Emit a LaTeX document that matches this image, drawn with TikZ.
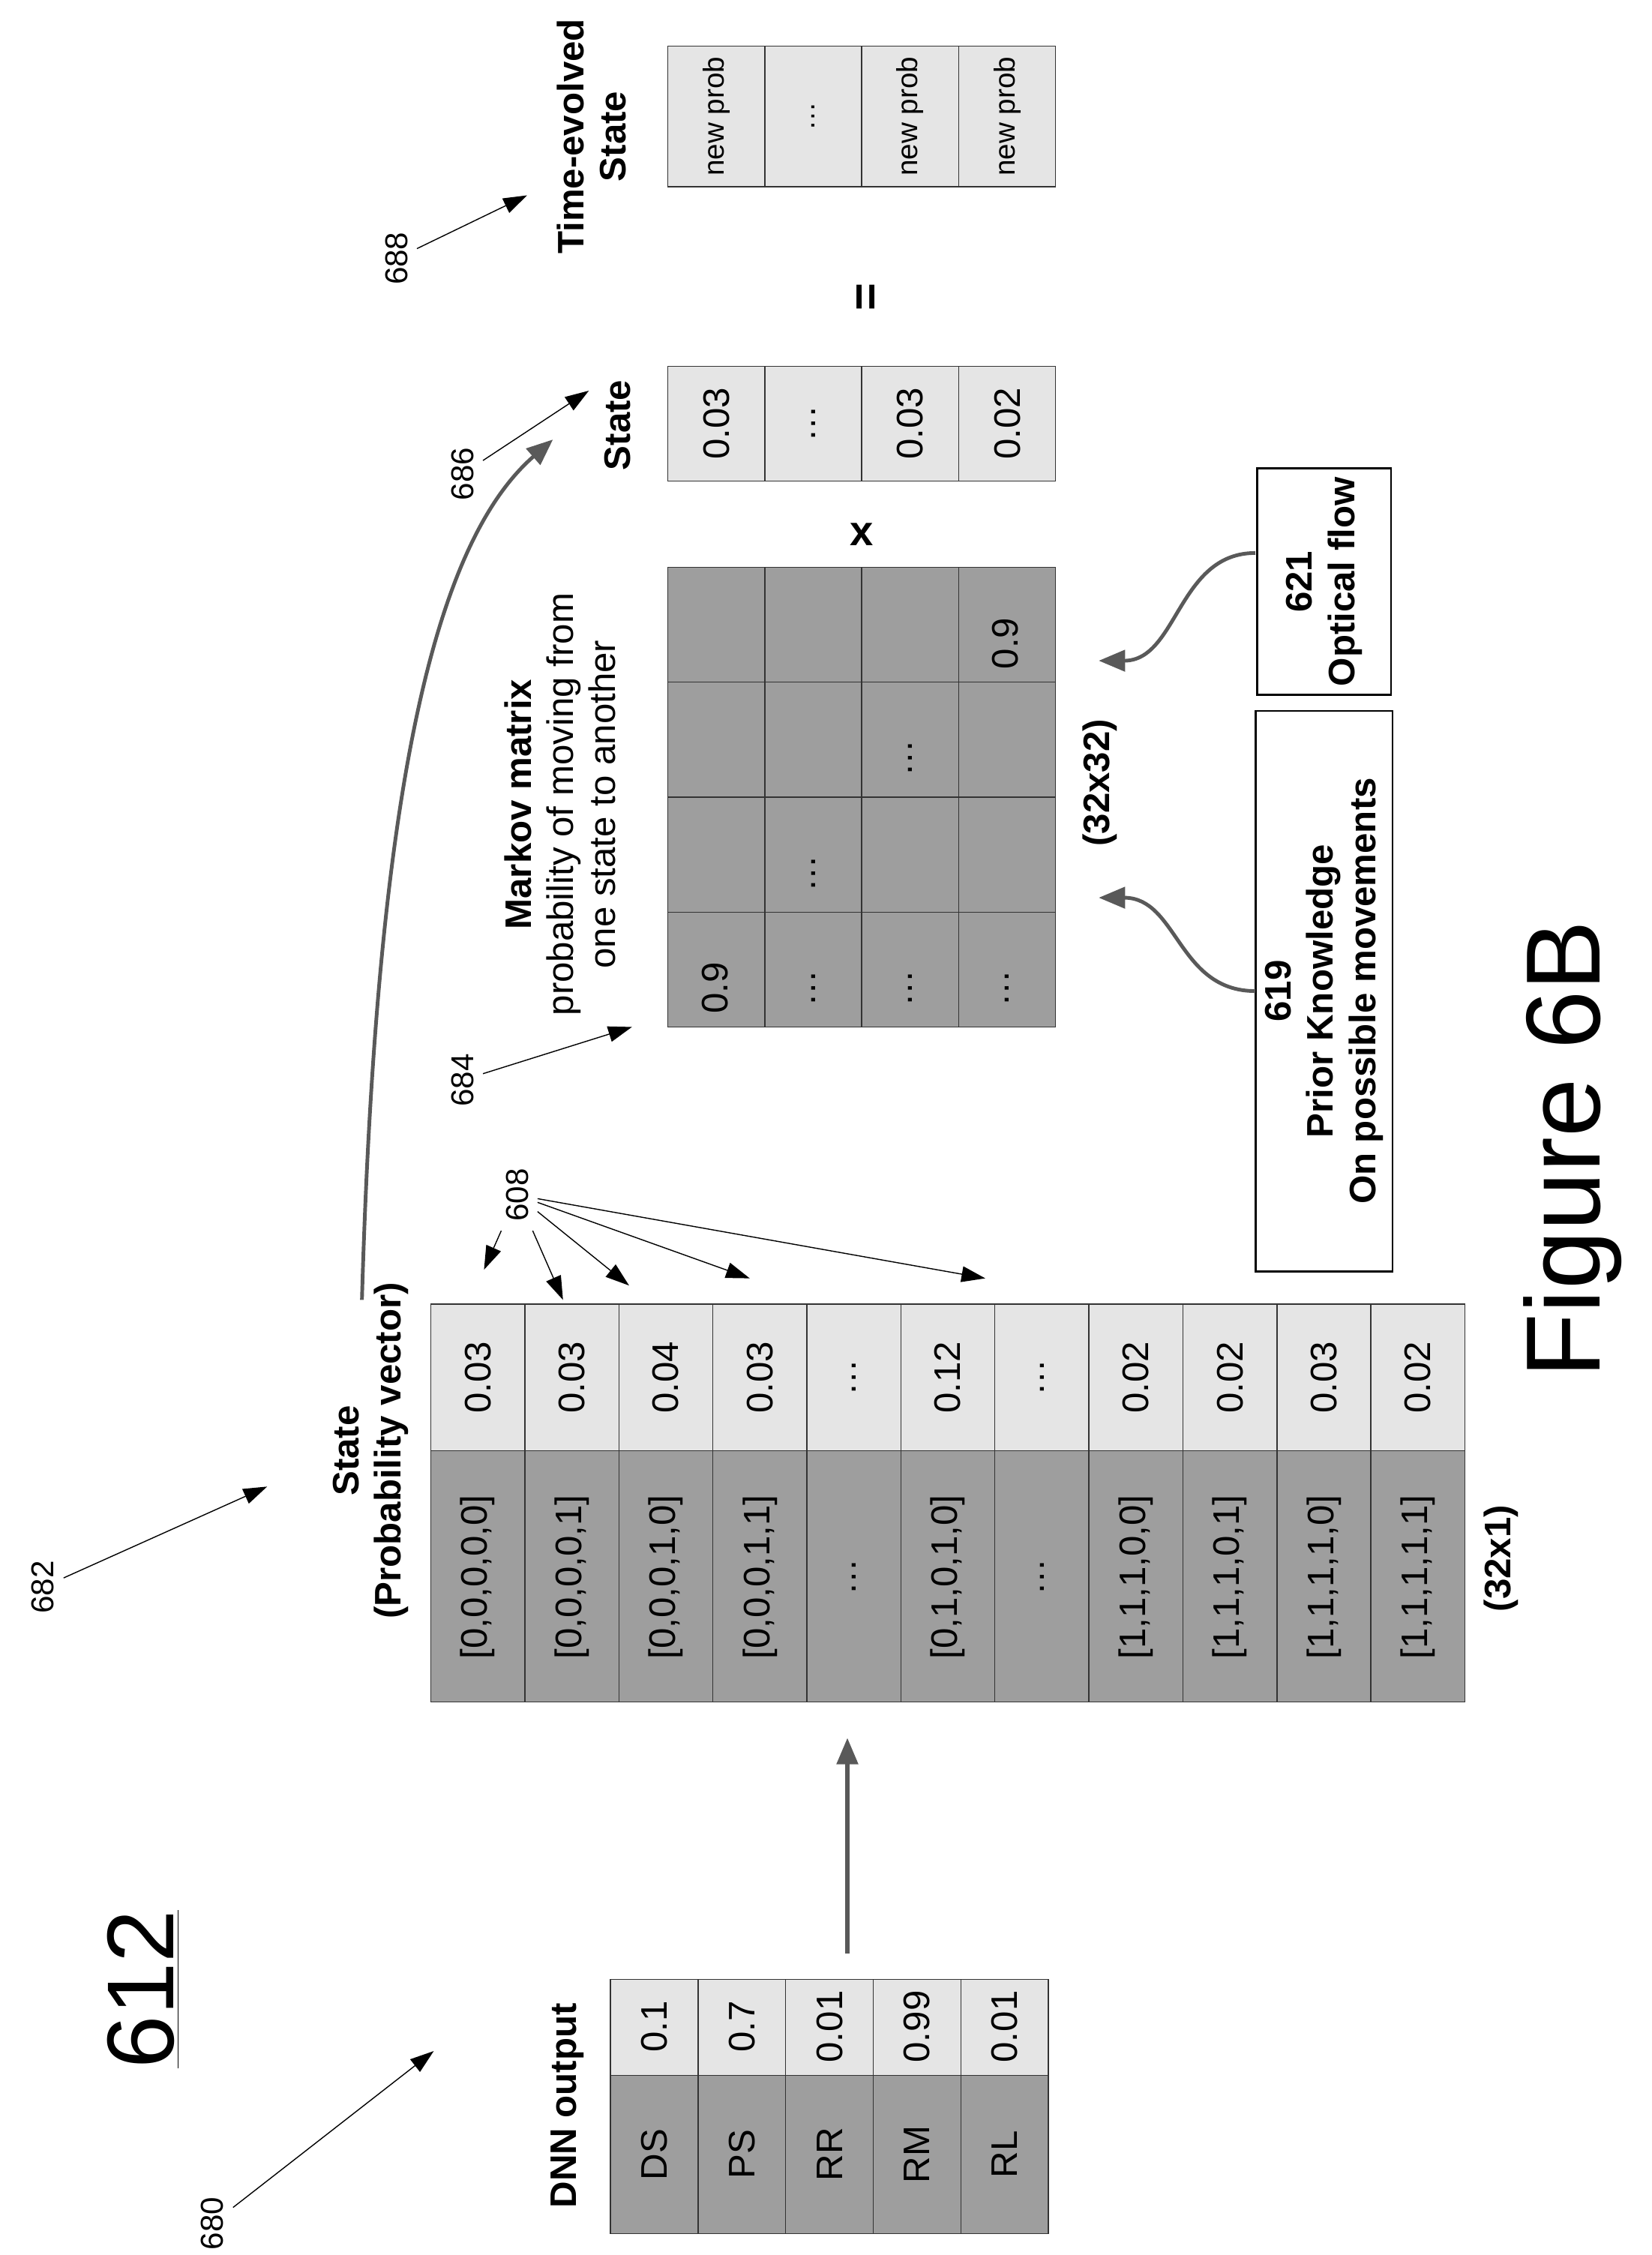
\documentclass[tikz,border=0pt]{standalone}
\usepackage{fontspec}
\setmainfont{Liberation Sans}
\usetikzlibrary{arrows.meta}
\definecolor{darkcell}{gray}{0.62}
\definecolor{lightcell}{gray}{0.90}
\begin{document}
\begin{tikzpicture}[x=0.019157cm,y=-0.019157cm,
    cell/.style={draw=black!80,thin},
    txt/.style={rotate=90,font=\fontsize{14}{15}\selectfont},
    ttl/.style={rotate=90,font=\bfseries\fontsize{14}{16}\selectfont,align=center},
    refnum/.style={rotate=90,font=\fontsize{12}{13}\selectfont},
    leader/.style={-{Triangle[length=9pt,width=6pt]},thin},
    flow/.style={-{Triangle[length=10pt,width=8pt]},line width=1.8pt,draw=black!65}]
    %\draw[help lines] (0,0) grid (1150,1570);
    \useasboundingbox (0,0) rectangle (1150,1570);
    % DNN output
    \foreach \lab/\val [count=\i] in {DS/0.1,PS/0.7,RR/0.01,RM/0.99,RL/0.01}{
        \pgfmathsetmacro{\xa}{425+(\i-1)*61}
        \pgfmathsetmacro{\xb}{\xa+61}
        \filldraw[cell,fill=darkcell] (\xa,1445) rectangle (\xb,1555);
        \filldraw[cell,fill=lightcell] (\xa,1378) rectangle (\xb,1445);
        \node[txt] (dnn\i) at ({(\xa+\xb)/2},1500) {\lab};
        \node[txt] (dnnv\i) at ({(\xa+\xb)/2},1411) {\val};
    }
    \node[ttl] (dnnttl) at (395,1466) {DNN output};
    \node[rotate=90,font=\fontsize{36}{38}\selectfont] (fig) at (100,1385) {\underline{612}};
    \node[refnum] (r680) at (148,1548) {680};
    \coordinate (t680) at (302,1428);
    \draw[leader] (r680) -- (t680);
    % state vector
    \foreach \lab/\val [count=\i] in {{[0,0,0,0,0]}/0.03,{[0,0,0,0,1]}/0.03,{[0,0,0,1,0]}/0.04,{[0,0,0,1,1]}/0.03,\ldots/\ldots,{[0,1,0,1,0]}/0.12,\ldots/\ldots,{[1,1,1,0,0]}/0.02,{[1,1,1,0,1]}/0.02,{[1,1,1,1,0]}/0.03,{[1,1,1,1,1]}/0.02}{
        \pgfmathsetmacro{\xa}{300+(\i-1)*65.45}
        \pgfmathsetmacro{\xb}{\xa+65.45}
        \filldraw[cell,fill=darkcell] (\xa,1010) rectangle (\xb,1185);
        \filldraw[cell,fill=lightcell] (\xa,908) rectangle (\xb,1010);
        \node[txt] (st\i) at ({(\xa+\xb)/2},1098) {\lab};
        \node[txt] (stv\i) at ({(\xa+\xb)/2},959) {\val};
    }
    \node[ttl] (stttl) at (258,1010) {State\\(Probability vector)};
    \node[ttl] (st32) at (1045,1085) {(32x1)};
    \node[refnum] (r682) at (30,1105) {682};
    \coordinate (t682) at (186,1035);
    \draw[leader] (r682) -- (t682);
    \coordinate (dnnout) at (590,1360);
    \coordinate (stin) at (590,1210);
    \draw[flow,line width=1.5pt] (dnnout) -- (stin);
    % 608 leaders
    \node[refnum] (r608) at (360,832) {608};
    \foreach \px/\py in {337/884,392/905,438/895,522/890,686/890}
        \draw[leader] (r608) -- (\px,\py);
    % Markov matrix
    \foreach \i in {0,...,3}
        \foreach \j in {0,...,3}
            \filldraw[cell,fill=darkcell] ({465+\i*67.5},{715-\j*80}) rectangle ({465+(\i+1)*67.5},{715-(\j+1)*80});
    \node[txt] (m11) at (498,688) {0.9};
    \foreach \i/\j in {1/0,2/0,3/0,1/1,2/2}
        \node[txt] at ({498.75+\i*67.5},{688-\j*80}) {\ldots};
    \node[txt] (m44) at (700,448) {0.9};
    \node[rotate=90,align=center,font=\fontsize{14}{16}\selectfont] (mttl) at (390,560)
        {\textbf{Markov matrix}\\probability of moving from\\one state to another};
    \node[ttl] (m32) at (766,545) {(32x32)};
    \node[refnum] (r684) at (322,752) {684};
    \coordinate (t684) at (440,715);
    \draw[leader] (r684) -- (t684);
    % state column
    \foreach \val [count=\i] in {0.03,\ldots,0.03,0.02}{
        \pgfmathsetmacro{\xa}{465+(\i-1)*67.5}
        \filldraw[cell,fill=lightcell] (\xa,255) rectangle ({\xa+67.5},335);
        \node[txt] (sv\i) at ({\xa+33.75},295) {\val};
    }
    \node[ttl] (svttl) at (430,296) {State};
    \node[font=\bfseries\fontsize{16}{16}\selectfont] (times) at (600,372) {x};
    \node[rotate=90,font=\bfseries\fontsize{18}{18}\selectfont] (eq) at (605,207) {=};
    % time evolved
    \foreach \val [count=\i] in {new prob,\ldots,new prob,new prob}{
        \pgfmathsetmacro{\xa}{465+(\i-1)*67.5}
        \filldraw[cell,fill=lightcell] (\xa,32) rectangle ({\xa+67.5},130);
        \node[rotate=90,font=\fontsize{11}{12}\selectfont] (tv\i) at ({\xa+33.75},81) {\val};
    }
    \node[ttl] (tvttl) at (412,95) {Time-evolved\\State};
    \node[refnum] (r688) at (276,180) {688};
    \coordinate (t688) at (367,136);
    \draw[leader] (r688) -- (t688);
    \node[refnum] (r686) at (322,330) {686};
    \coordinate (t686) at (410,272);
    \draw[leader] (r686) -- (t686);
    % feedback arrow
    \coordinate (fbstart) at (252,905);
    \coordinate (fbend) at (385,306);
    \draw[flow,line width=1.4pt] (fbstart) .. controls (262,560) and (300,380) .. (fbend);
    % knowledge boxes
    \node[draw,thick,rotate=90,minimum width=390*0.19157mm,minimum height=95*0.19157mm,align=center,font=\bfseries\fontsize{14}{16}\selectfont] (prior) at (922,690)
        {619\\Prior Knowledge\\On possible movements};
    \node[draw,thick,rotate=90,minimum width=130*0.19157mm,minimum height=93*0.19157mm,align=center,font=\bfseries\fontsize{14}{16}\selectfont] (optic) at (922,405)
        {621\\Optical flow};
    \coordinate (mpin) at (765,625);
    \coordinate (mpin2) at (765,460);
    \draw[flow,line width=1.4pt] (874,690) .. controls (820,690) and (820,625) .. (mpin);
    \draw[flow,line width=1.4pt] (874,385) .. controls (820,385) and (820,460) .. (mpin2);
    \node[rotate=90,font=\fontsize{40}{42}\selectfont] (fig6b) at (1095,800) {Figure 6B};
\end{tikzpicture}
\end{document}
